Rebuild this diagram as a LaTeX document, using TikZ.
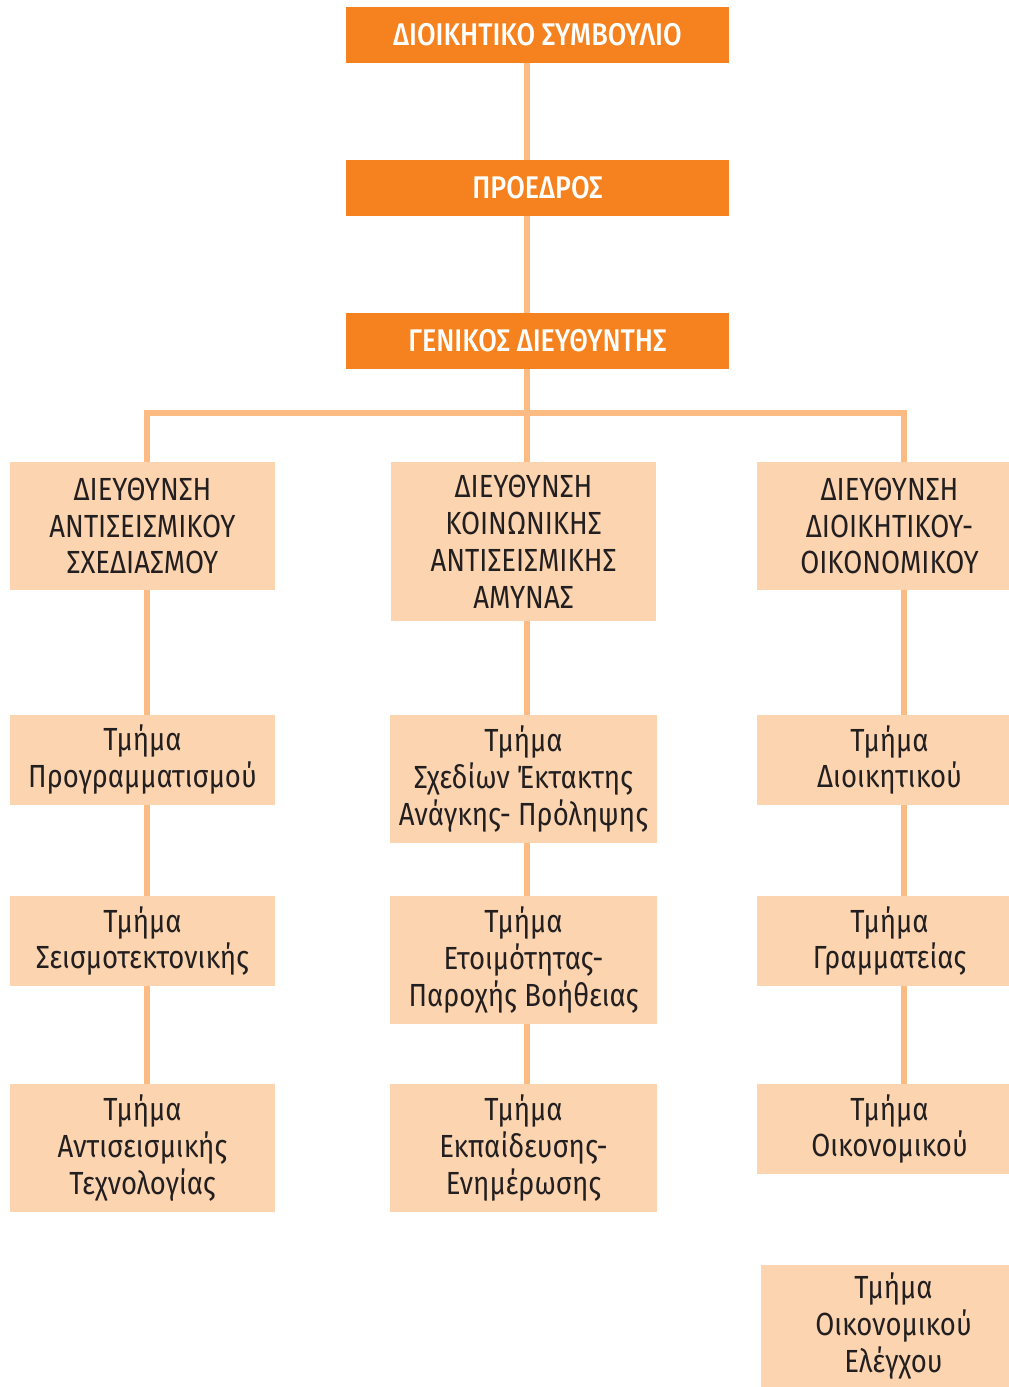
\documentclass[tikz,border=0pt]{standalone}
\usepackage{fontspec}
\setmainfont{Fira Sans}[FakeStretch=0.86]
\newfontfamily\medfont{Fira Sans Medium}[FakeStretch=0.86]
\usetikzlibrary{backgrounds}
\definecolor{darkorange}{HTML}{F5821F}
\definecolor{peach}{HTML}{FCD5B0}
\definecolor{linecol}{HTML}{FDBB84}
\definecolor{textcol}{HTML}{231F20}
\tikzset{
  topbox/.style={fill=darkorange, text=white, minimum width=383*0.75pt, minimum height=56*0.75pt, inner sep=0pt, font=\medfont\fontsize{23.5}{27}\selectfont},
  dirbox/.style={fill=peach, text=textcol, minimum width=265*0.75pt, inner sep=0pt, align=center, font=\fontsize{24}{27.7}\selectfont},
  conn/.style={draw=linecol, line width=4.5pt}
}
\begin{document}
\begin{tikzpicture}[x=0.75pt, y=-0.75pt]
\useasboundingbox (0,0) rectangle (1009,1387);
% top boxes
\node[topbox] (b1) at (537.5,35) {ΔΙΟΙΚΗΤΙΚΟ ΣΥΜΒΟΥΛΙΟ};
\node[topbox] (b2) at (537.5,188) {ΠΡΟΕΔΡΟΣ};
\node[topbox] (b3) at (537.5,341) {ΓΕΝΙΚΟΣ ΔΙΕΥΘΥΝΤΗΣ};
% directorates
\node[dirbox, minimum height=128*0.75pt] (d1) at (142.5,526) {ΔΙΕΥΘΥΝΣΗ\\ΑΝΤΙΣΕΙΣΜΙΚΟΥ\\ΣΧΕΔΙΑΣΜΟΥ};
\node[dirbox, minimum height=159*0.75pt] (d2) at (523.5,541.5) {ΔΙΕΥΘΥΝΣΗ\\ΚΟΙΝΩΝΙΚΗΣ\\ΑΝΤΙΣΕΙΣΜΙΚΗΣ\\ΑΜΥΝΑΣ};
\node[dirbox, minimum height=128*0.75pt] (d3) at (889.5,526) {ΔΙΕΥΘΥΝΣΗ\\ΔΙΟΙΚΗΤΙΚΟΥ-\\ΟΙΚΟΝΟΜΙΚΟΥ};
% row 1
\node[dirbox, minimum height=90*0.75pt] (l1) at (142.5,760) {Τμήμα\\Προγραμματισμού};
\node[dirbox, minimum height=128*0.75pt, minimum width=267*0.75pt] (m1) at (523.5,779) {Τμήμα\\Σχεδίων Έκτακτης\\Ανάγκης- Πρόληψης};
\node[dirbox, minimum height=90*0.75pt] (r1) at (889.5,760) {Τμήμα\\Διοικητικού};
% row 2
\node[dirbox, minimum height=90*0.75pt] (l2) at (142.5,941) {Τμήμα\\Σεισμοτεκτονικής};
\node[dirbox, minimum height=128*0.75pt, minimum width=267*0.75pt] (m2) at (523.5,960) {Τμήμα\\Ετοιμότητας-\\Παροχής Βοήθειας};
\node[dirbox, minimum height=90*0.75pt] (r2) at (889.5,941) {Τμήμα\\Γραμματείας};
% row 3
\node[dirbox, minimum height=128*0.75pt] (l3) at (142.5,1148) {Τμήμα\\Αντισεισμικής\\Τεχνολογίας};
\node[dirbox, minimum height=128*0.75pt, minimum width=267*0.75pt] (m3) at (523.5,1148) {Τμήμα\\Εκπαίδευσης-\\Ενημέρωσης};
\node[dirbox, minimum height=90*0.75pt] (r3) at (889.5,1129) {Τμήμα\\Οικονομικού};
% extra
\node[dirbox, minimum height=122*0.75pt] (x1) at (893.5,1326) {Τμήμα\\Οικονομικού\\Ελέγχου};
% connector coordinates
\coordinate (sp) at (527,413);
\coordinate (spl) at (147,413);
\coordinate (spr) at (904,413);
\begin{scope}[on background layer]
\draw[conn] (b1.south -| sp) -- (b2.north -| sp);
\draw[conn] (b2.south -| sp) -- (b3.north -| sp);
\draw[conn] (b3.south -| sp) -- (d2.north -| sp);
\draw[conn] (d1.north -| spl) -- (spl) -- (spr) -- (d3.north -| spr);
\draw[conn] (d1.south -| spl) -- (l1.north -| spl);
\draw[conn] (l1.south -| spl) -- (l2.north -| spl);
\draw[conn] (l2.south -| spl) -- (l3.north -| spl);
\draw[conn] (d2.south -| sp) -- (m1.north -| sp);
\draw[conn] (m1.south -| sp) -- (m2.north -| sp);
\draw[conn] (m2.south -| sp) -- (m3.north -| sp);
\draw[conn] (d3.south -| spr) -- (r1.north -| spr);
\draw[conn] (r1.south -| spr) -- (r2.north -| spr);
\draw[conn] (r2.south -| spr) -- (r3.north -| spr);
\end{scope}
\end{tikzpicture}
\end{document}
